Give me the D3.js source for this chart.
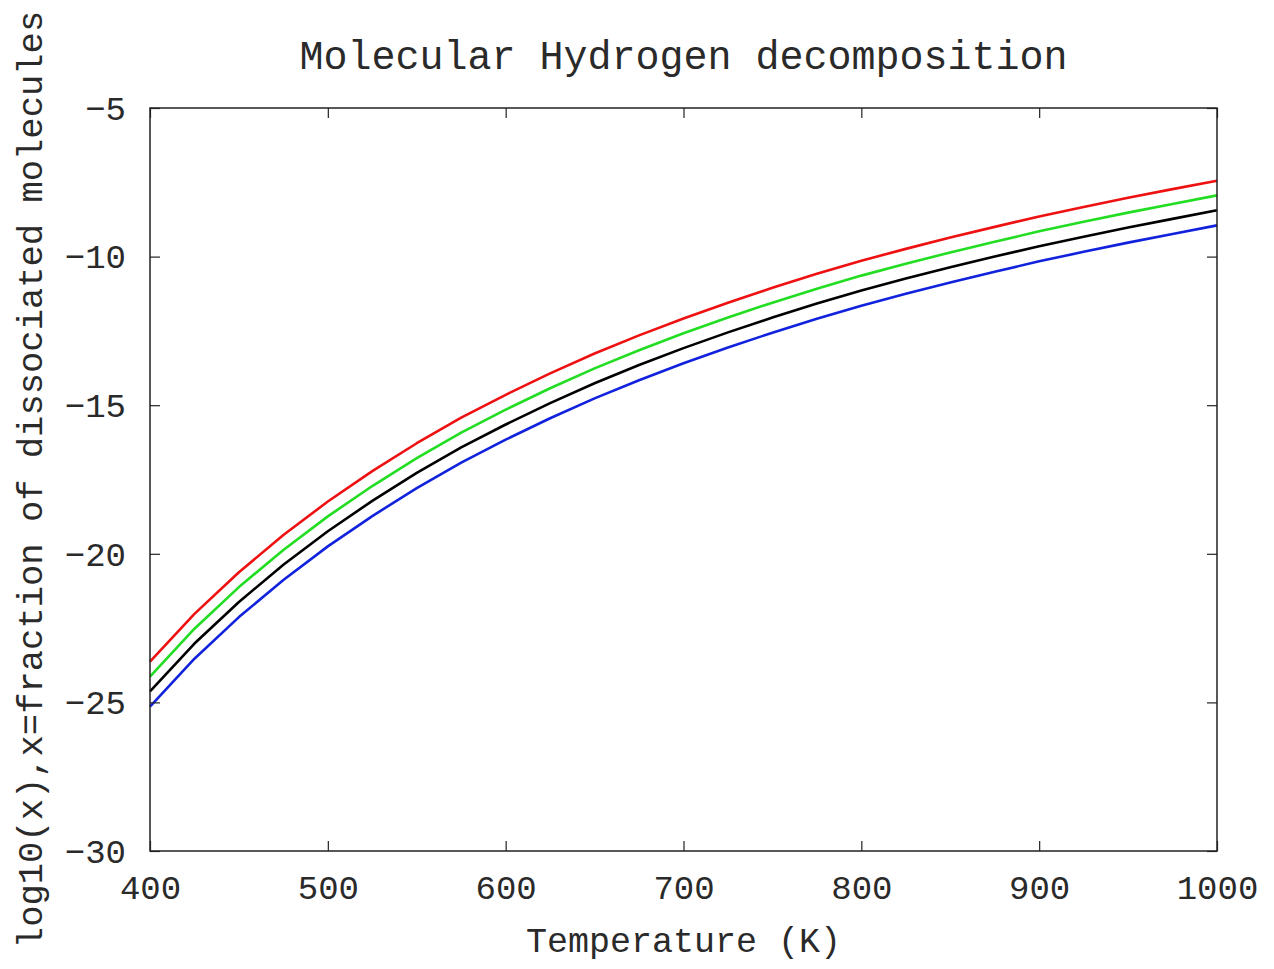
<!DOCTYPE html>
<html>
<head>
<meta charset="utf-8">
<script src="https://cdn.jsdelivr.net/npm/d3@7"></script>
<style>
  body { margin: 0; background: #fff; }
  svg text { font-family: "Liberation Mono", "DejaVu Sans Mono", monospace; fill: #2a2a2a; }
</style>
</head>
<body>
<div id="chart"></div>
<script>
// temperatures (K)
const temps = [400, 425, 450, 475, 500, 525, 550, 575, 600, 625, 650, 675, 700,
               725, 750, 775, 800, 825, 850, 875, 900, 925, 950, 975, 1000];

// log10(x), one list per curve
const redVals = [-23.63, -22.02, -20.62, -19.37, -18.24, -17.22, -16.28, -15.42, -14.65,
                 -13.93, -13.26, -12.65, -12.08, -11.55, -11.05, -10.58, -10.14, -9.74,
                 -9.36, -9.00, -8.65, -8.33, -8.02, -7.73, -7.45];
const greenVals = [-24.13, -22.52, -21.12, -19.87, -18.74, -17.72, -16.78, -15.92, -15.15,
                   -14.43, -13.76, -13.15, -12.58, -12.05, -11.55, -11.08, -10.64, -10.24,
                   -9.86, -9.50, -9.15, -8.83, -8.52, -8.23, -7.94];
const blackVals = [-24.63, -23.02, -21.62, -20.37, -19.24, -18.22, -17.28, -16.42, -15.65,
                   -14.93, -14.26, -13.65, -13.08, -12.55, -12.05, -11.58, -11.14, -10.74,
                   -10.36, -10.00, -9.65, -9.33, -9.02, -8.73, -8.44];
const blueVals = [-25.14, -23.53, -22.13, -20.88, -19.75, -18.73, -17.79, -16.93, -16.16,
                  -15.44, -14.77, -14.16, -13.59, -13.06, -12.56, -12.09, -11.65, -11.25,
                  -10.87, -10.51, -10.16, -9.84, -9.53, -9.24, -8.95];

const xTicks = [400, 500, 600, 700, 800, 900, 1000];
const yTicks = [-5, -10, -15, -20, -25, -30];

const W = 1274, H = 969;
const mLeft = 150, mRight = 1217, mTop = 108, mBottom = 851;

const svg = d3.select("#chart").append("svg")
    .attr("width", W).attr("height", H);

const x = d3.scaleLinear().domain([400, 1000]).range([mLeft, mRight]);
const y = d3.scaleLinear().domain([-30, -5]).range([mBottom, mTop]);

// curves
const series = [
    { vals: redVals, color: "#ee1111" },
    { vals: greenVals, color: "#22dd22" },
    { vals: blackVals, color: "#000000" },
    { vals: blueVals, color: "#1122dd" }
];
const line = d3.line().x(d => x(d[0])).y(d => y(d[1]));
series.forEach(s => {
    svg.append("path")
        .datum(temps.map((t, i) => [t, s.vals[i]]))
        .attr("d", line)
        .attr("fill", "none")
        .attr("stroke", s.color)
        .attr("stroke-width", 2.6)
        .attr("stroke-linejoin", "round");
});

// axes: ticks inward, mirrored on top/right
const tickLen = 10;
const fs = 34;
svg.append("g").attr("transform", `translate(0,${mBottom})`)
    .call(d3.axisBottom(x).tickValues(xTicks).tickSize(-tickLen).tickPadding(tickLen + 14)
        .tickFormat(d3.format("d")))
    .call(g => g.select(".domain").remove())
    .call(g => g.selectAll("text").attr("font-size", fs).attr("dy", "0.71em").attr("fill", "#2a2a2a"));
svg.append("g").attr("transform", `translate(0,${mTop})`)
    .call(d3.axisTop(x).tickValues(xTicks).tickSize(-tickLen).tickFormat(""))
    .call(g => g.select(".domain").remove());
svg.append("g").attr("transform", `translate(${mLeft},0)`)
    .call(d3.axisLeft(y).tickValues(yTicks).tickSize(-tickLen).tickPadding(tickLen + 14)
        .tickFormat(d => "\u2212" + Math.abs(d)))
    .call(g => g.select(".domain").remove())
    .call(g => g.selectAll("text").attr("font-size", fs).attr("dy", "0.33em").attr("fill", "#2a2a2a"));
svg.append("g").attr("transform", `translate(${mRight},0)`)
    .call(d3.axisRight(y).tickValues(yTicks).tickSize(-tickLen).tickFormat(""))
    .call(g => g.select(".domain").remove());
svg.selectAll(".tick line").attr("stroke", "#222").attr("stroke-width", 1.2);

// frame
svg.append("rect")
    .attr("x", mLeft).attr("y", mTop)
    .attr("width", mRight - mLeft).attr("height", mBottom - mTop)
    .attr("fill", "none").attr("stroke", "#222").attr("stroke-width", 1.5);

// title & labels
svg.append("text")
    .attr("x", (mLeft + mRight) / 2).attr("y", 69)
    .attr("text-anchor", "middle").attr("font-size", 40)
    .text("Molecular Hydrogen decomposition");
svg.append("text")
    .attr("x", (mLeft + mRight) / 2).attr("y", 952)
    .attr("text-anchor", "middle").attr("font-size", fs + 1)
    .text("Temperature (K)");
svg.append("text")
    .attr("transform", `translate(42,${(mTop + mBottom) / 2}) rotate(-90)`)
    .attr("text-anchor", "middle").attr("font-size", 35.5)
    .text("log10(x),x=fraction of dissociated molecules");
</script>
</body>
</html>
